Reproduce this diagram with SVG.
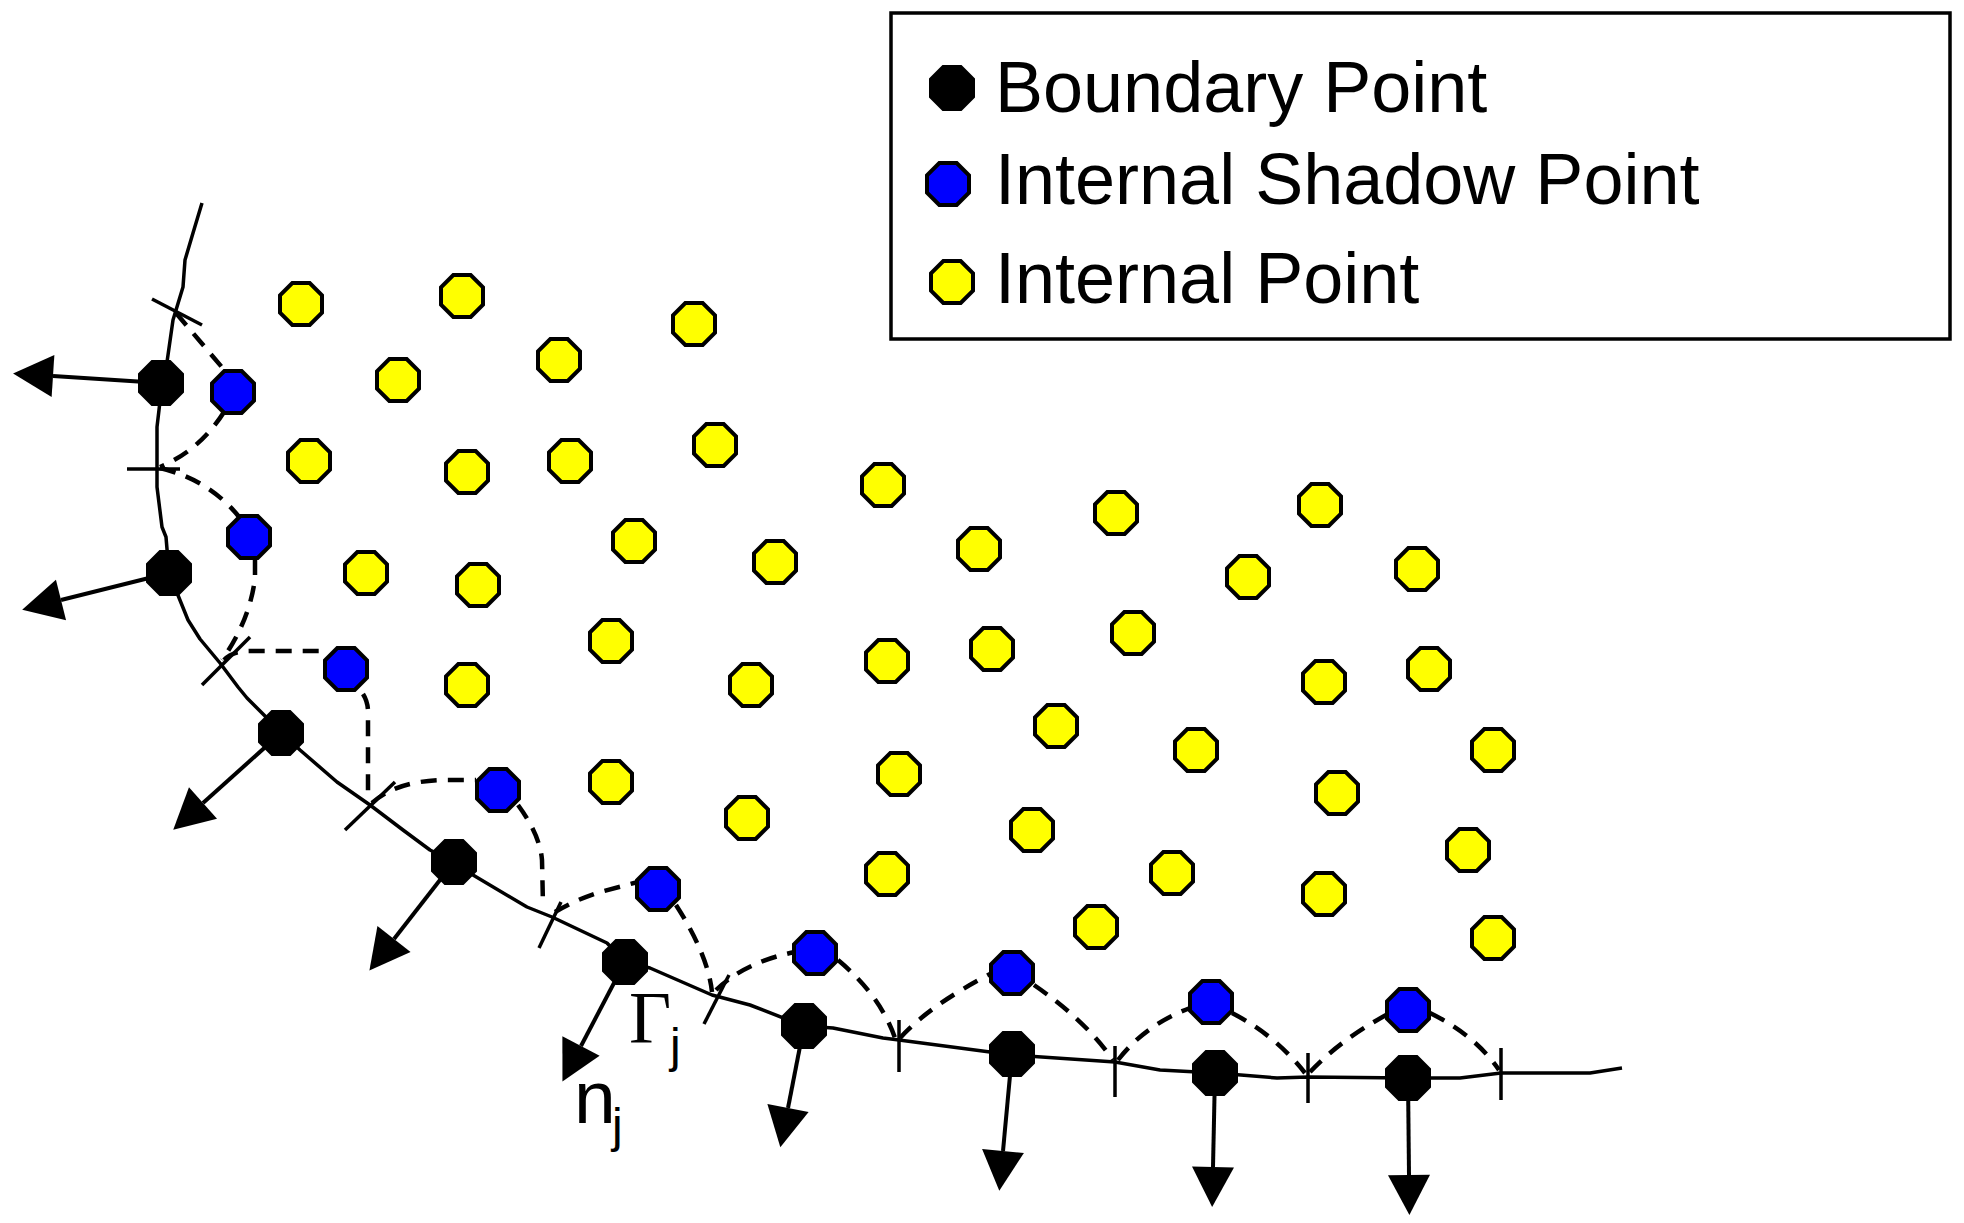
<svg xmlns="http://www.w3.org/2000/svg" xmlns:xlink="http://www.w3.org/1999/xlink" width="1964" height="1223" viewBox="0 0 1964 1223">
<style>
.bd{fill:none;stroke:#000;stroke-width:3.5;stroke-linejoin:round}
.tk{fill:none;stroke:#000;stroke-width:3.5}
.ds{fill:none;stroke:#000;stroke-width:4.5;stroke-dasharray:16 11}
.nm{fill:none;stroke:#000;stroke-width:4;marker-end:url(#ah)}
.ob{fill:#000;stroke:#000;stroke-width:4}
.os{fill:#0000FF;stroke:#000;stroke-width:4}
.oi{fill:#FFFF00;stroke:#000;stroke-width:4}
.lg{font-family:"Liberation Sans",Arial,sans-serif;font-size:72px;fill:#000}
.sy{font-family:"Liberation Sans",Arial,sans-serif;fill:#000}
.gm{font-family:"Liberation Serif","Times New Roman",serif;font-size:73px;fill:#000}
</style>
<defs>
<polygon id="oct" points="-8.7,-21 8.7,-21 21,-8.7 21,8.7 8.7,21 -8.7,21 -21,8.7 -21,-8.7"/>
<marker id="ah" markerUnits="userSpaceOnUse" markerWidth="40" markerHeight="42" viewBox="0 0 40 42" refX="0" refY="21" orient="auto" overflow="visible"><path d="M0,0 L40,21 L0,42 z" fill="#000"/></marker>
</defs>
<rect width="1964" height="1223" fill="#fff"/>

<g id="legend">
<rect x="891" y="13" width="1059" height="326" fill="#fff" stroke="#000" stroke-width="3.5"/>
<use xlink:href="#oct" href="#oct" class="ob" x="952" y="88"/>
<use xlink:href="#oct" href="#oct" class="os" x="948" y="184"/>
<use xlink:href="#oct" href="#oct" class="oi" x="952" y="282"/>
<text class="lg" x="995" y="112">Boundary Point</text>
<text class="lg" x="995" y="204">Internal Shadow Point</text>
<text class="lg" x="995" y="303">Internal Point</text>
</g>

<g id="connectors">
<path class="bd" d="M202,203 L193,233 L185,260 L183,287 L173,320 L167,362 L162,383 L159,410 L157,427 L157,487 L162,527 L166,537 L169,573 L188,620 L200,639 L220,663 L238,687 L247,698 L282,733 L300,750 L337,782 L370,805 L403,830 L430,850 L454,862 L473,875 L527,907 L552,917 L607,943 L625,962 L650,968 L712,995 L750,1005 L804,1026 L833,1028 L883,1038 L899,1040 L990,1052 L1012,1055 L1115,1062 L1160,1070 L1216,1073 L1277,1078 L1308,1077 L1408,1078 L1460,1078 L1501,1073 L1590,1073 L1622,1068"/>
<g id="ticks">
<line class="tk" x1="152" y1="299" x2="202" y2="325"/>
<line class="tk" x1="127" y1="469" x2="180" y2="469"/>
<line class="tk" x1="202" y1="685" x2="250" y2="637"/>
<line class="tk" x1="345" y1="830" x2="395" y2="782"/>
<line class="tk" x1="539" y1="948" x2="561" y2="902"/>
<line class="tk" x1="704" y1="1024" x2="729" y2="975"/>
<line class="tk" x1="899" y1="1020" x2="899" y2="1072"/>
<line class="tk" x1="1115" y1="1046" x2="1115" y2="1097"/>
<line class="tk" x1="1308" y1="1053" x2="1308" y2="1103"/>
<line class="tk" x1="1501" y1="1048" x2="1501" y2="1100"/>
</g>
<g id="shadow-links">
<path class="ds" d="M176,313 L226,372"/>
<path class="ds" d="M224,412 Q200,450 160,467"/>
<path class="ds" d="M160,468 Q210,480 240,518"/>
<path class="ds" d="M255,559 L255,578 Q250,620 222,660"/>
<path class="ds" d="M224,660 Q232,651 250,651 L324,651"/>
<path class="ds" d="M363,694 Q368,702 368,712 L368,800"/>
<path class="ds" d="M372,803 Q395,782 440,780 L476,780"/>
<path class="ds" d="M518,805 Q540,835 542,860 L543,905"/>
<path class="ds" d="M555,912 Q575,900 600,892 L638,882"/>
<path class="ds" d="M676,905 Q708,955 712,992"/>
<path class="ds" d="M716,990 Q745,962 795,952"/>
<path class="ds" d="M838,960 Q880,995 895,1038"/>
<path class="ds" d="M900,1038 Q930,1005 992,973"/>
<path class="ds" d="M1034,985 Q1085,1020 1113,1060"/>
<path class="ds" d="M1118,1060 Q1145,1025 1190,1008"/>
<path class="ds" d="M1232,1013 Q1275,1035 1305,1073"/>
<path class="ds" d="M1310,1072 Q1340,1040 1388,1014"/>
<path class="ds" d="M1430,1013 Q1475,1035 1499,1070"/>
</g>
<g id="normals">
<line class="nm" x1="161" y1="383" x2="53" y2="376"/>
<line class="nm" x1="169" y1="573" x2="61" y2="600"/>
<line class="nm" x1="281" y1="733" x2="203" y2="803"/>
<line class="nm" x1="454" y1="862" x2="394" y2="939"/>
<line class="nm" x1="625" y1="962" x2="581" y2="1046"/>
<line class="nm" x1="804" y1="1026" x2="788" y2="1108"/>
<line class="nm" x1="1012" y1="1054" x2="1003" y2="1151"/>
<line class="nm" x1="1215" y1="1073" x2="1213" y2="1167"/>
<line class="nm" x1="1408" y1="1078" x2="1409" y2="1175"/>
</g>
</g>

<g id="boundary-points">
<use id="b1" xlink:href="#oct" href="#oct" class="ob" x="161" y="383"/>
<use id="b2" xlink:href="#oct" href="#oct" class="ob" x="169" y="573"/>
<use id="b3" xlink:href="#oct" href="#oct" class="ob" x="281" y="733"/>
<use id="b4" xlink:href="#oct" href="#oct" class="ob" x="454" y="862"/>
<use id="b5" xlink:href="#oct" href="#oct" class="ob" x="625" y="962"/>
<use id="b6" xlink:href="#oct" href="#oct" class="ob" x="804" y="1026"/>
<use id="b7" xlink:href="#oct" href="#oct" class="ob" x="1012" y="1054"/>
<use id="b8" xlink:href="#oct" href="#oct" class="ob" x="1215" y="1073"/>
<use id="b9" xlink:href="#oct" href="#oct" class="ob" x="1408" y="1078"/>
</g>

<g id="shadow-points">
<use id="s1" xlink:href="#oct" href="#oct" class="os" x="233" y="392"/>
<use id="s2" xlink:href="#oct" href="#oct" class="os" x="249" y="537"/>
<use id="s3" xlink:href="#oct" href="#oct" class="os" x="346" y="669"/>
<use id="s4" xlink:href="#oct" href="#oct" class="os" x="498" y="790"/>
<use id="s5" xlink:href="#oct" href="#oct" class="os" x="658" y="889"/>
<use id="s6" xlink:href="#oct" href="#oct" class="os" x="815" y="953"/>
<use id="s7" xlink:href="#oct" href="#oct" class="os" x="1012" y="973"/>
<use id="s8" xlink:href="#oct" href="#oct" class="os" x="1211" y="1002"/>
<use id="s9" xlink:href="#oct" href="#oct" class="os" x="1408" y="1010"/>
</g>

<g id="internal-points">
<use id="i1" xlink:href="#oct" href="#oct" class="oi" x="301" y="304"/>
<use id="i2" xlink:href="#oct" href="#oct" class="oi" x="462" y="296"/>
<use id="i3" xlink:href="#oct" href="#oct" class="oi" x="694" y="324"/>
<use id="i4" xlink:href="#oct" href="#oct" class="oi" x="559" y="360"/>
<use id="i5" xlink:href="#oct" href="#oct" class="oi" x="398" y="380"/>
<use id="i6" xlink:href="#oct" href="#oct" class="oi" x="309" y="461"/>
<use id="i7" xlink:href="#oct" href="#oct" class="oi" x="467" y="472"/>
<use id="i8" xlink:href="#oct" href="#oct" class="oi" x="570" y="461"/>
<use id="i9" xlink:href="#oct" href="#oct" class="oi" x="715" y="445"/>
<use id="i10" xlink:href="#oct" href="#oct" class="oi" x="634" y="541"/>
<use id="i11" xlink:href="#oct" href="#oct" class="oi" x="366" y="573"/>
<use id="i12" xlink:href="#oct" href="#oct" class="oi" x="478" y="585"/>
<use id="i13" xlink:href="#oct" href="#oct" class="oi" x="883" y="485"/>
<use id="i14" xlink:href="#oct" href="#oct" class="oi" x="1116" y="513"/>
<use id="i15" xlink:href="#oct" href="#oct" class="oi" x="775" y="562"/>
<use id="i16" xlink:href="#oct" href="#oct" class="oi" x="979" y="549"/>
<use id="i17" xlink:href="#oct" href="#oct" class="oi" x="1133" y="633"/>
<use id="i18" xlink:href="#oct" href="#oct" class="oi" x="751" y="685"/>
<use id="i19" xlink:href="#oct" href="#oct" class="oi" x="887" y="661"/>
<use id="i20" xlink:href="#oct" href="#oct" class="oi" x="992" y="649"/>
<use id="i21" xlink:href="#oct" href="#oct" class="oi" x="1056" y="726"/>
<use id="i22" xlink:href="#oct" href="#oct" class="oi" x="1320" y="505"/>
<use id="i23" xlink:href="#oct" href="#oct" class="oi" x="1248" y="577"/>
<use id="i24" xlink:href="#oct" href="#oct" class="oi" x="1417" y="569"/>
<use id="i25" xlink:href="#oct" href="#oct" class="oi" x="1324" y="682"/>
<use id="i26" xlink:href="#oct" href="#oct" class="oi" x="1429" y="669"/>
<use id="i27" xlink:href="#oct" href="#oct" class="oi" x="1196" y="750"/>
<use id="i28" xlink:href="#oct" href="#oct" class="oi" x="1493" y="750"/>
<use id="i29" xlink:href="#oct" href="#oct" class="oi" x="1337" y="793"/>
<use id="i30" xlink:href="#oct" href="#oct" class="oi" x="611" y="641"/>
<use id="i31" xlink:href="#oct" href="#oct" class="oi" x="467" y="685"/>
<use id="i32" xlink:href="#oct" href="#oct" class="oi" x="611" y="782"/>
<use id="i33" xlink:href="#oct" href="#oct" class="oi" x="899" y="774"/>
<use id="i34" xlink:href="#oct" href="#oct" class="oi" x="747" y="818"/>
<use id="i35" xlink:href="#oct" href="#oct" class="oi" x="1032" y="830"/>
<use id="i36" xlink:href="#oct" href="#oct" class="oi" x="887" y="874"/>
<use id="i37" xlink:href="#oct" href="#oct" class="oi" x="1096" y="927"/>
<use id="i38" xlink:href="#oct" href="#oct" class="oi" x="1172" y="873"/>
<use id="i39" xlink:href="#oct" href="#oct" class="oi" x="1468" y="850"/>
<use id="i40" xlink:href="#oct" href="#oct" class="oi" x="1324" y="894"/>
<use id="i41" xlink:href="#oct" href="#oct" class="oi" x="1493" y="938"/>
</g>

<g id="labels">
<text class="gm" x="629" y="1043">Γ</text>
<text class="sy" x="670" y="1062" font-size="48">j</text>
<text class="sy" x="574" y="1123" font-size="75">n</text>
<text class="sy" x="612" y="1142" font-size="48">j</text>
</g>
</svg>
